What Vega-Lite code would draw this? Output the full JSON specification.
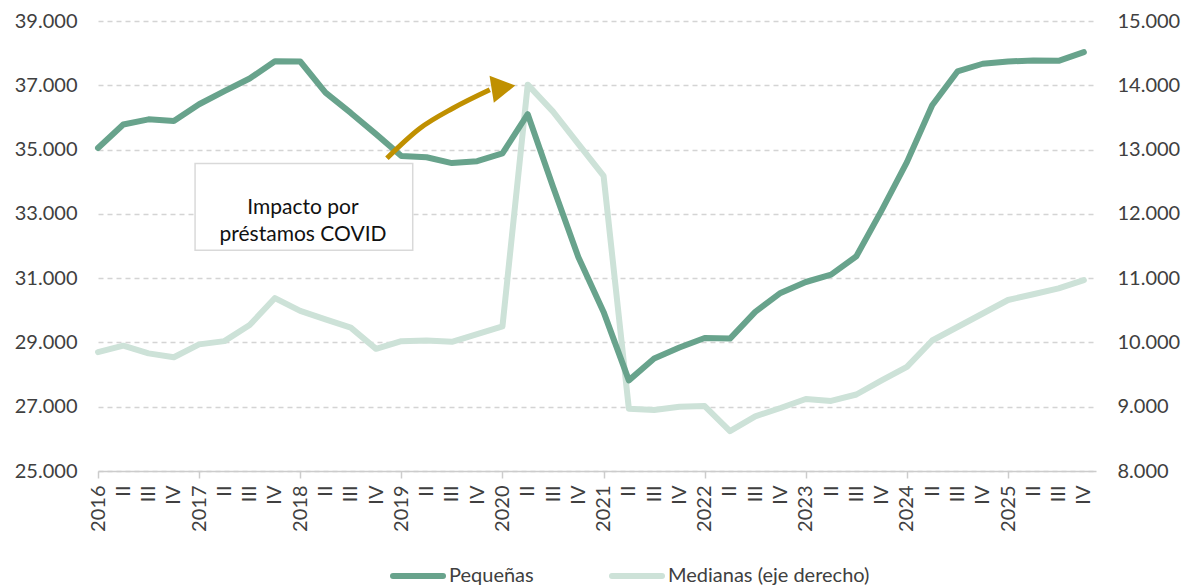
{
  "$schema": "https://vega.github.io/schema/vega-lite/v6.json",
  "width": 998,
  "height": 450,
  "padding": {"left": 98, "top": 21, "right": 93, "bottom": 116},
  "autosize": {"type": "none"},
  "background": "white",
  "config": {
    "view": {"stroke": null},
    "font": "Lato",
    "text": {"font": "Lato"},
    "axisX": {
      "labelOverlap": false,
      "labelAngle": -90,
      "labelAlign": "right",
      "labelBaseline": "middle",
      "labelPadding": 7,
      "labelFlush": false,
      "labelBound": false,
      "grid": false,
      "labelFont": "Lato",
      "labelFontSize": 20,
      "labelColor": "#404040",
      "domainColor": "#cccccc",
      "domainWidth": 1.5,
      "tickSize": 7,
      "tickWidth": 1.5,
      "tickCount": 40
    }
  },
  "datasets": {
    "series": [
      {"i": 0, "pequenas": 35050, "medianas": 9850},
      {"i": 1, "pequenas": 35780, "medianas": 9950},
      {"i": 2, "pequenas": 35940, "medianas": 9830},
      {"i": 3, "pequenas": 35890, "medianas": 9770},
      {"i": 4, "pequenas": 36410, "medianas": 9970},
      {"i": 5, "pequenas": 36820, "medianas": 10020},
      {"i": 6, "pequenas": 37210, "medianas": 10270},
      {"i": 7, "pequenas": 37750, "medianas": 10690},
      {"i": 8, "pequenas": 37740, "medianas": 10490},
      {"i": 9, "pequenas": 36770, "medianas": 10360},
      {"i": 10, "pequenas": 36140, "medianas": 10230},
      {"i": 11, "pequenas": 35480, "medianas": 9900},
      {"i": 12, "pequenas": 34800, "medianas": 10020},
      {"i": 13, "pequenas": 34760, "medianas": 10030},
      {"i": 14, "pequenas": 34580, "medianas": 10010},
      {"i": 15, "pequenas": 34640, "medianas": 10130},
      {"i": 16, "pequenas": 34880, "medianas": 10250},
      {"i": 17, "pequenas": 36100, "medianas": 14010},
      {"i": 18, "pequenas": 33840, "medianas": 13590},
      {"i": 19, "pequenas": 31660, "medianas": 13090},
      {"i": 20, "pequenas": 29950, "medianas": 12590},
      {"i": 21, "pequenas": 27820, "medianas": 8970},
      {"i": 22, "pequenas": 28500, "medianas": 8950},
      {"i": 23, "pequenas": 28840, "medianas": 9000},
      {"i": 24, "pequenas": 29140, "medianas": 9010},
      {"i": 25, "pequenas": 29120, "medianas": 8620},
      {"i": 26, "pequenas": 29950, "medianas": 8850},
      {"i": 27, "pequenas": 30540, "medianas": 8980},
      {"i": 28, "pequenas": 30880, "medianas": 9120},
      {"i": 29, "pequenas": 31110, "medianas": 9090},
      {"i": 30, "pequenas": 31680, "medianas": 9190},
      {"i": 31, "pequenas": 33110, "medianas": 9410},
      {"i": 32, "pequenas": 34610, "medianas": 9620},
      {"i": 33, "pequenas": 36380, "medianas": 10030},
      {"i": 34, "pequenas": 37430, "medianas": 10240},
      {"i": 35, "pequenas": 37670, "medianas": 10450},
      {"i": 36, "pequenas": 37740, "medianas": 10660},
      {"i": 37, "pequenas": 37770, "medianas": 10750},
      {"i": 38, "pequenas": 37760, "medianas": 10840},
      {"i": 39, "pequenas": 38030, "medianas": 10970}
    ],
    "arrow": [
      {"ax": 11.43, "ay": 34730},
      {"ax": 12.74, "ay": 35663},
      {"ax": 14.04, "ay": 36285},
      {"ax": 15.5, "ay": 36860}
    ],
    "head": [
      {"hx": 16.04, "hy": 36935}
    ],
    "box": [
      {"bx1": 3.84, "bx2": 12.45, "by1": 34565, "by2": 31868}
    ],
    "note": [
      {"tx": 8.11, "ty": 33174, "txt": ["Impacto por", "préstamos COVID"]}
    ]
  },
  "layer": [
    {
      "data": {"name": "series"},
      "mark": {"type": "line", "strokeWidth": 6, "strokeCap": "round", "strokeJoin": "round"},
      "encoding": {
        "x": {
          "field": "i", "type": "quantitative", "title": null,
          "scale": {"domain": [0, 39.48], "nice": false, "zero": false},
          "axis": {
            "title": null,
            "values": [0,1,2,3,4,5,6,7,8,9,10,11,12,13,14,15,16,17,18,19,20,21,22,23,24,25,26,27,28,29,30,31,32,33,34,35,36,37,38,39],
            "tickCount": 40,
            "labelExpr": "datum.value % 4 == 0 ? '' + (2016 + datum.value / 4) : (datum.value % 4 == 1 ? 'II' : (datum.value % 4 == 2 ? 'III' : 'IV'))",
            "labelOverlap": false,
            "tickColor": {"condition": {"test": "datum.value % 4 == 0", "value": "#cccccc"}, "value": "transparent"}
          }
        },
        "y": {
          "field": "medianas", "type": "quantitative", "title": null,
          "scale": {"domain": [8000, 15000], "nice": false, "zero": false},
          "axis": {
            "orient": "right",
            "title": null,
            "values": [8000, 9000, 10000, 11000, 12000, 13000, 14000, 15000],
            "labelExpr": "replace(format(datum.value, ','), ',', '.')",
            "labelFont": "Lato",
            "labelFontSize": 20,
            "labelColor": "#404040",
            "labelPadding": 21,
            "domain": false,
            "ticks": false,
            "grid": false
          }
        },
        "color": {
          "datum": "Medianas (eje derecho)",
          "scale": {"domain": ["Pequeñas", "Medianas (eje derecho)"], "range": ["#68a38c", "#cde2d8"]},
          "legend": {
            "title": null,
            "orient": "none",
            "direction": "horizontal",
            "legendX": 292,
            "legendY": 527,
            "padding": 0,
            "labelFont": "Lato",
            "labelFontSize": 20,
            "labelColor": "#404040",
            "labelLimit": 400,
            "symbolType": "stroke",
            "symbolStrokeWidth": 6,
            "symbolSize": 2500,
            "labelOffset": 3,
            "columnPadding": 66,
            "encode": {"symbols": {"update": {"strokeCap": {"value": "round"}}}}
          }
        }
      }
    },
    {
      "layer": [
        {
          "data": {"name": "series"},
          "mark": {"type": "line", "strokeWidth": 6, "strokeCap": "round", "strokeJoin": "round"},
          "encoding": {
            "x": {
              "field": "i", "type": "quantitative", "title": null,
              "scale": {"domain": [0, 39.48], "nice": false, "zero": false},
              "axis": {
                "title": null,
                "values": [0,1,2,3,4,5,6,7,8,9,10,11,12,13,14,15,16,17,18,19,20,21,22,23,24,25,26,27,28,29,30,31,32,33,34,35,36,37,38,39],
                "tickCount": 40,
                "labelExpr": "datum.value % 4 == 0 ? '' + (2016 + datum.value / 4) : (datum.value % 4 == 1 ? 'II' : (datum.value % 4 == 2 ? 'III' : 'IV'))",
                "labelOverlap": false,
                "tickColor": {"condition": {"test": "datum.value % 4 == 0", "value": "#cccccc"}, "value": "transparent"}
              }
            },
            "y": {
              "field": "pequenas", "type": "quantitative", "title": null,
              "scale": {"domain": [25000, 39000], "nice": false, "zero": false},
              "axis": {
                "orient": "left",
                "title": null,
                "values": [25000, 27000, 29000, 31000, 33000, 35000, 37000, 39000],
                "labelExpr": "replace(format(datum.value, ','), ',', '.')",
                "labelFont": "Lato",
                "labelFontSize": 20,
                "labelColor": "#404040",
                "labelPadding": 21,
                "domain": false,
                "ticks": false,
                "grid": true,
                "gridColor": "#d4d4d4",
                "gridDash": [5, 4],
                "gridWidth": 1.5
              }
            },
            "color": {"datum": "Pequeñas"}
          }
        },
        {
          "data": {"name": "arrow"},
          "mark": {"type": "line", "color": "#c09000", "strokeWidth": 5, "interpolate": "monotone"},
          "encoding": {
            "x": {"field": "ax", "type": "quantitative", "title": null, "scale": {"domain": [0, 39.48], "nice": false, "zero": false}},
            "y": {"field": "ay", "type": "quantitative", "title": null, "scale": {"domain": [25000, 39000], "nice": false, "zero": false}}
          }
        },
        {
          "data": {"name": "head"},
          "mark": {"type": "point", "shape": "triangle-right", "filled": true, "color": "#c09000", "opacity": 1, "size": 760, "angle": -9},
          "encoding": {
            "x": {"field": "hx", "type": "quantitative", "title": null, "scale": {"domain": [0, 39.48], "nice": false, "zero": false}},
            "y": {"field": "hy", "type": "quantitative", "title": null, "scale": {"domain": [25000, 39000], "nice": false, "zero": false}}
          }
        },
        {
          "data": {"name": "box"},
          "mark": {"type": "rect", "fill": "white", "stroke": "#d9d9d9", "strokeWidth": 1.5},
          "encoding": {
            "x": {"field": "bx1", "type": "quantitative", "title": null, "scale": {"domain": [0, 39.48], "nice": false, "zero": false}},
            "x2": {"field": "bx2"},
            "y": {"field": "by1", "type": "quantitative", "title": null, "scale": {"domain": [25000, 39000], "nice": false, "zero": false}},
            "y2": {"field": "by2"}
          }
        },
        {
          "data": {"name": "note"},
          "mark": {"type": "text", "font": "Lato", "fontSize": 21, "color": "#111111", "align": "center", "baseline": "middle", "lineHeight": 27},
          "encoding": {
            "x": {"field": "tx", "type": "quantitative", "title": null, "scale": {"domain": [0, 39.48], "nice": false, "zero": false}},
            "y": {"field": "ty", "type": "quantitative", "title": null, "scale": {"domain": [25000, 39000], "nice": false, "zero": false}},
            "text": {"field": "txt"}
          }
        }
      ]
    }
  ],
  "resolve": {"scale": {"y": "independent"}}
}
